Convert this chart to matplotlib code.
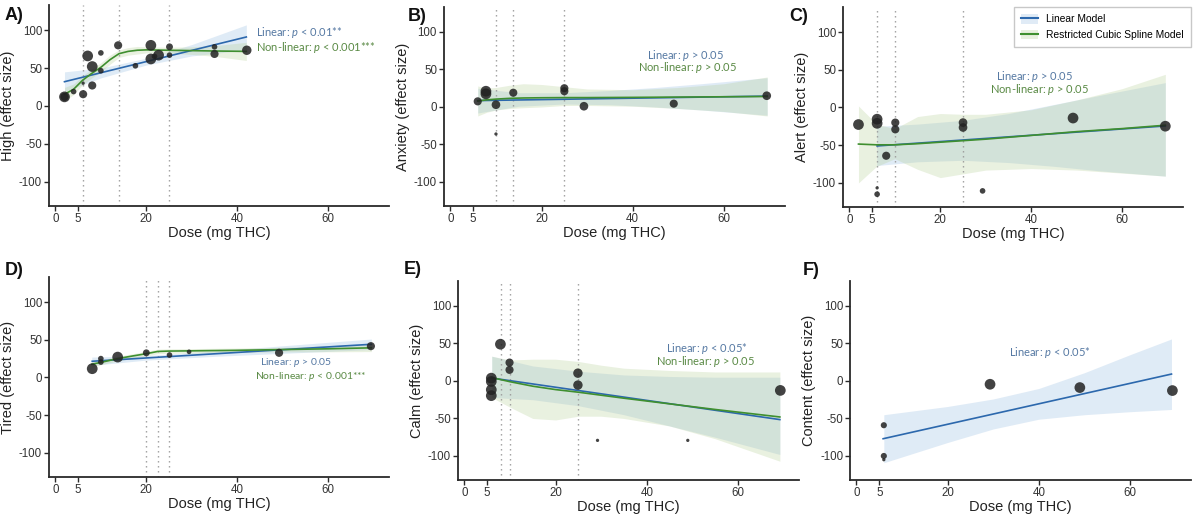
import matplotlib
matplotlib.use('Agg')
import matplotlib.pyplot as plt
from matplotlib.patches import Patch
from matplotlib.lines import Line2D

plt.rcParams['font.family'] = ['Liberation Sans', 'DejaVu Sans']
plt.rcParams['axes.unicode_minus'] = False
plt.rcParams['mathtext.fontset'] = 'custom'
plt.rcParams['mathtext.rm'] = 'Lato'
plt.rcParams['mathtext.it'] = 'Lato:italic'

# ---------------- data ----------------
# A) High
high_dose = [2, 2, 4, 6.1, 6.1, 7.1, 8.1, 8.1, 10, 10, 13.8, 17.6, 21, 21, 21.8, 22.7, 25.1, 25.1, 35, 35, 42.1]
high_effect = [12, 12, 19, 15.5, 30, 66, 52, 27, 70, 46.5, 80, 53, 80, 62, 65.5, 67, 78, 67, 78, 68.6, 73.5]
high_weight = [4, 3, 2, 3, 1, 4, 4, 3, 2, 2, 3, 2, 4, 4, 2, 4, 2.5, 2, 2, 3, 3.5]
high_knots = [6, 14, 25]
high_lin_x = [2, 42]
high_lin_y = [32, 91]
high_lin_band_x = [2, 10, 20, 30, 42]
high_lin_lo = [19, 37, 54, 66, 74]
high_lin_hi = [45, 50, 63, 81, 107]
high_rcs_x = [2, 4, 6, 8, 10, 12, 14, 16, 18, 20, 25, 30, 35, 42]
high_rcs_y = [15.5, 22, 34, 43, 51, 61, 69, 72, 73.5, 74, 73.5, 73, 72.5, 72]
high_rcs_lo = [6.5, 15, 28, 37, 45, 55, 64, 67, 68.5, 70, 69.5, 68, 65.5, 60]
high_rcs_hi = [24.5, 29, 40, 49, 57, 67, 74, 77, 78.5, 78, 77.5, 78, 79.5, 84]

# B) Anxiety
anx_dose = [6, 7.8, 7.8, 10, 10, 13.8, 25, 25, 29.3, 49, 69.4]
anx_effect = [7.5, 21, 17.5, 3, -36, 19, 25, 21, 1, 4.4, 15]
anx_weight = [3, 4, 4, 3.2, 1, 3, 3, 3, 3.2, 3, 3.2]
anx_knots = [10, 13.8, 25]
anx_lin_x = [6, 69.5]
anx_lin_y = [8.5, 14.5]
anx_lin_band_x = [6, 15, 25, 35, 45, 55, 69.5]
anx_lin_lo = [-8, 1, 4, 3, 0, -4, -11]
anx_lin_hi = [25, 19, 19, 22, 26, 31, 39]
anx_rcs_x = [6, 8, 10, 13, 16, 20, 25, 30, 40, 50, 60, 69.5]
anx_rcs_y = [8, 9.5, 10.5, 11.5, 12, 12.3, 12.5, 12.5, 12.8, 13.2, 13.6, 14]
anx_rcs_lo = [-12, -7, -4, -2, -1, 0, 2, 2, 1, -2, -6, -12]
anx_rcs_hi = [28, 25, 26, 29, 31, 30, 27, 24, 23, 26, 31, 40]

# C) Alert
alert_dose = [2, 6.1, 6.1, 6.1, 6.1, 8.1, 10.1, 10.1, 25, 25, 29.3, 49.2, 69.5]
alert_effect = [-22.6, -15.5, -21, -106.6, -115, -64, -20, -29, -20, -26.5, -110.6, -14, -24.8]
alert_weight = [4, 4, 4, 1, 2, 3, 3, 3, 3.2, 3.2, 2, 4, 4]
alert_knots = [6, 10, 25]
alert_lin_x = [6.1, 69.5]
alert_lin_y = [-51, -24.5]
alert_lin_band_x = [6, 15, 25, 35, 45, 55, 69.5]
alert_lin_lo = [-77, -72, -70, -73, -78, -84, -91]
alert_lin_hi = [-25, -22, -17, -8, 4, 16, 33]
alert_rcs_x = [2, 6, 10, 15, 20, 25, 30, 40, 50, 60, 69.5]
alert_rcs_y = [-48.5, -49.5, -49.5, -48, -46, -44, -42, -37, -32, -28, -23.5]
alert_rcs_lo = [-100, -78, -68, -82, -93, -88, -83, -81, -83, -87, -91]
alert_rcs_hi = [2, -22, -28, -12, -8, -9, -9, -3, 10, 25, 44]

# D) Tired
tired_dose = [8.1, 10, 10, 13.7, 20, 25.1, 29.4, 49.2, 69.4]
tired_effect = [11.6, 25, 20.4, 27, 32.7, 29.7, 34, 32.7, 41.5]
tired_weight = [4, 2, 2, 4, 2.5, 2, 1.6, 3, 3]
tired_knots = [20, 22.5, 25]
tired_lin_x = [8.1, 69.5]
tired_lin_y = [21.5, 44]
tired_lin_band_x = [8, 20, 35, 50, 69.5]
tired_lin_lo = [16, 23, 28, 32, 37]
tired_lin_hi = [27, 29, 35, 42, 51]
tired_rcs_x = [8, 10, 13.7, 17, 20, 22.5, 25, 30, 40, 50, 60, 69.5]
tired_rcs_y = [17.5, 20, 25, 28.5, 31.5, 34.5, 35, 35.3, 36, 37, 38, 39.3]
tired_rcs_lo = [13.5, 17, 22, 25.5, 28.5, 31.5, 32, 32.3, 33, 34, 34, 34.3]
tired_rcs_hi = [21.5, 23, 28, 31.5, 34.5, 37.5, 38, 38.3, 39, 40, 42, 44.3]

# E) Calm
calm_dose = [5.9, 5.9, 5.9, 5.9, 7.9, 9.9, 9.9, 24.9, 24.9, 29.2, 49, 69.3]
calm_effect = [3.75, -0.7, -11.7, -19.6, 49, 24.5, 14.8, 10.4, -5.5, -79.2, -79.2, -12.6]
calm_weight = [4, 4, 4, 4, 4, 3, 3, 3.5, 3.5, 1, 1, 4]
calm_knots = [8, 10, 25]
calm_lin_x = [5.9, 69.2]
calm_lin_y = [4, -51.5]
calm_lin_band_x = [6, 15, 25, 35, 45, 55, 69.2]
calm_lin_lo = [-22, -25, -33, -45, -60, -75, -98]
calm_lin_hi = [33, 20, 13, 8, 6, 5, 5]
calm_rcs_x = [6, 10, 15, 20, 25, 30, 35, 45, 55, 69.2]
calm_rcs_y = [4.5, -1, -7, -11.5, -15, -19, -23, -30.5, -38, -48]
calm_rcs_lo = [-22, -35, -50, -52, -47, -47, -50, -60, -77, -107]
calm_rcs_hi = [33, 28, 29, 29, 26, 21, 17, 14, 12, 12]

# F) Content (linear model only)
content_dose = [6, 6, 6, 29.3, 49, 69.3]
content_effect = [-59, -100, -105, -4.4, -8.8, -12.8]
content_weight = [2.2, 2.2, 1, 4, 4, 4]
content_lin_x = [5.85, 69.1]
content_lin_y = [-77, 9.2]
content_lin_band_x = [6, 20, 30, 40, 50, 60, 69.1]
content_lin_lo = [-109, -82, -64, -51, -45, -41, -38]
content_lin_hi = [-45, -34, -24, -10, 11, 35, 56]

x_ticks = [0, 5, 20, 40, 60]
y_ticks = [-100, -50, 0, 50, 100]

# ---------------- style ----------------
BLUE = '#2c68ad'
GREEN = '#3f8f2f'
BLUE_TXT = '#5679a3'
GREEN_TXT = '#5a8a45'
BLUE_FILL = '#c6dbef'
GREEN_FILL = '#b2cd91'
DARK = '#2a2a2a'

fig = plt.figure(figsize=(11.99, 5.15), dpi=100)


def setup_axes(rect, ylabel):
    ax = fig.add_axes(rect)
    ax.set_xlim(-1.4, 73.4)
    ax.set_ylim(-132, 133)
    ax.set_xticks(x_ticks)
    ax.set_yticks(y_ticks)
    ax.spines['top'].set_visible(False)
    ax.spines['right'].set_visible(False)
    for s in ('left', 'bottom'):
        ax.spines[s].set_color(DARK)
        ax.spines[s].set_linewidth(1.3)
    ax.tick_params(colors=DARK, labelcolor='#333333', labelsize=8.3, length=3.5, width=1, pad=1.5)
    ax.set_xlabel('Dose (mg THC)', fontsize=10.5, color='#222222', labelpad=1)
    ax.set_ylabel(ylabel, fontsize=10.5, color='#222222', labelpad=3)
    return ax


def draw_panel(ax, dose, effect, weight, lin_x, lin_y, band_x, lin_lo, lin_hi,
               knots=None, rcs_x=None, rcs_y=None, rcs_lo=None, rcs_hi=None):
    ax.fill_between(band_x, lin_lo, lin_hi, color=BLUE_FILL, alpha=0.55, lw=0, zorder=1)
    if rcs_x is not None:
        ax.fill_between(rcs_x, rcs_lo, rcs_hi, color=GREEN_FILL, alpha=0.28, lw=0, zorder=1.1)
    if knots:
        for k in knots:
            ax.axvline(k, color='#9a9a9a', lw=1, linestyle=(0, (1, 2.6)), zorder=1.5)
    ax.plot(lin_x, lin_y, color=BLUE, lw=1.2, zorder=2)
    if rcs_x is not None:
        ax.plot(rcs_x, rcs_y, color=GREEN, lw=1.2, zorder=2.1)
    sizes = [3.6 * w ** 2 + 2 for w in weight]
    ax.scatter(dose, effect, s=sizes, color='#222222', alpha=0.85, lw=0, zorder=3)


def annotate(ax, x, y, txt, color, ha='center', size=8):
    ax.text(x, y, txt, color=color, fontsize=size, ha=ha, va='center', family='Lato', zorder=4)


# A
ax = setup_axes([0.0409, 0.600, 0.2836, 0.390], 'High (effect size)')
draw_panel(ax, high_dose, high_effect, high_weight, high_lin_x, high_lin_y,
           high_lin_band_x, high_lin_lo, high_lin_hi, high_knots,
           high_rcs_x, high_rcs_y, high_rcs_lo, high_rcs_hi)
annotate(ax, 44.2, 96.5, 'Linear: $p$ < 0.01**', BLUE_TXT, ha='left')
annotate(ax, 44.2, 77.5, 'Non-linear: $p$ < 0.001***', GREEN_TXT, ha='left')

# B
ax = setup_axes([0.3703, 0.600, 0.2844, 0.386], 'Anxiety (effect size)')
draw_panel(ax, anx_dose, anx_effect, anx_weight, anx_lin_x, anx_lin_y,
           anx_lin_band_x, anx_lin_lo, anx_lin_hi, anx_knots,
           anx_rcs_x, anx_rcs_y, anx_rcs_lo, anx_rcs_hi)
annotate(ax, 51.6, 69, 'Linear: $p$ > 0.05', BLUE_TXT)
annotate(ax, 52.0, 52, 'Non-linear: $p$ > 0.05', GREEN_TXT)

# C
ax = setup_axes([0.7031, 0.598, 0.2836, 0.388], 'Alert (effect size)')
draw_panel(ax, alert_dose, alert_effect, alert_weight, alert_lin_x, alert_lin_y,
           alert_lin_band_x, alert_lin_lo, alert_lin_hi, alert_knots,
           alert_rcs_x, alert_rcs_y, alert_rcs_lo, alert_rcs_hi)
annotate(ax, 40.7, 41.6, 'Linear: $p$ > 0.05', BLUE_TXT)
annotate(ax, 41.8, 24, 'Non-linear: $p$ > 0.05', GREEN_TXT)

# D
ax = setup_axes([0.0409, 0.0738, 0.2836, 0.388], 'Tired (effect size)')
draw_panel(ax, tired_dose, tired_effect, tired_weight, tired_lin_x, tired_lin_y,
           tired_lin_band_x, tired_lin_lo, tired_lin_hi, tired_knots,
           tired_rcs_x, tired_rcs_y, tired_rcs_lo, tired_rcs_hi)
annotate(ax, 53.0, 20.5, 'Linear: $p$ > 0.05', BLUE_TXT, size=7.5)
annotate(ax, 56.2, 1.0, 'Non-linear: $p$ < 0.001***', GREEN_TXT, size=7.5)

# E
ax = setup_axes([0.3820, 0.068, 0.2844, 0.386], 'Calm (effect size)')
draw_panel(ax, calm_dose, calm_effect, calm_weight, calm_lin_x, calm_lin_y,
           calm_lin_band_x, calm_lin_lo, calm_lin_hi, calm_knots,
           calm_rcs_x, calm_rcs_y, calm_rcs_lo, calm_rcs_hi)
annotate(ax, 53.2, 43, 'Linear: $p$ < 0.05*', BLUE_TXT)
annotate(ax, 53.0, 25.8, 'Non-linear: $p$ > 0.05', GREEN_TXT)

# F
ax = setup_axes([0.7090, 0.068, 0.2844, 0.386], 'Content (effect size)')
draw_panel(ax, content_dose, content_effect, content_weight, content_lin_x, content_lin_y,
           content_lin_band_x, content_lin_lo, content_lin_hi)
annotate(ax, 42.4, 37.9, 'Linear: $p$ < 0.05*', BLUE_TXT)

# panel letters
for lx, ly, lab in [(5, 7, 'A)'), (408, 8, 'B)'), (789, 8, 'C)'),
                    (5, 262, 'D)'), (404, 261, 'E)'), (803, 262, 'F)')]:
    fig.text(lx / 1199, 1 - ly / 515, lab, fontsize=13, fontweight='bold',
             ha='left', va='top', color='#111111')

# legend
handles = [(Patch(facecolor='#e0ebf6', edgecolor='none'), Line2D([], [], color=BLUE, lw=1.5)),
           (Patch(facecolor='#e8f0de', edgecolor='none'), Line2D([], [], color=GREEN, lw=1.5))]
leg = fig.legend(handles, ['Linear Model', 'Restricted Cubic Spline Model'],
                 loc='upper right', bbox_to_anchor=(1196 / 1199, 1 - 2 / 515),
                 fontsize=7.4, frameon=True, fancybox=False, edgecolor='#bbbbbb',
                 handlelength=1.6, handleheight=1.0, borderpad=0.7, labelspacing=0.5)
leg.get_frame().set_linewidth(1.0)

fig.savefig('out.png', dpi=100)
